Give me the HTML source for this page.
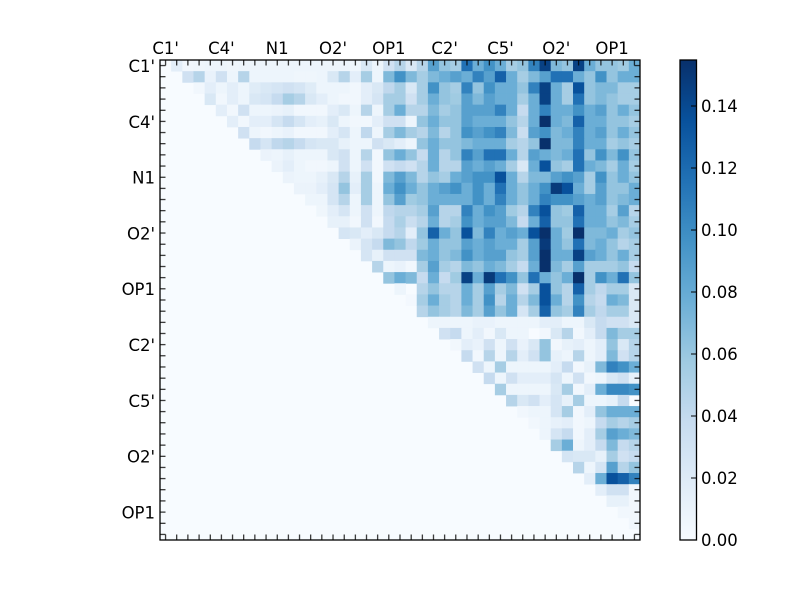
<!DOCTYPE html>
<html><head><meta charset="utf-8"><style>
html,body{margin:0;padding:0;background:#fff;}
svg{display:block;}
text{font-family:"DejaVu Sans","Liberation Sans",sans-serif;font-size:16.5px;fill:#000;}
</style></head><body>
<svg id="s" width="800" height="600" viewBox="0 0 800 600" xmlns="http://www.w3.org/2000/svg">
<defs>
<linearGradient id="cb" x1="0" y1="1" x2="0" y2="0">
<stop offset="0" stop-color="#f7fbff"/>
<stop offset="0.125" stop-color="#deebf7"/>
<stop offset="0.25" stop-color="#c6dbef"/>
<stop offset="0.375" stop-color="#9ecae1"/>
<stop offset="0.5" stop-color="#6baed6"/>
<stop offset="0.625" stop-color="#4292c6"/>
<stop offset="0.75" stop-color="#2171b5"/>
<stop offset="0.875" stop-color="#08519c"/>
<stop offset="1" stop-color="#08306b"/>
</linearGradient>
<pattern id="tx" patternUnits="userSpaceOnUse" x="160" y="0" width="11.16279" height="600">
<rect x="5.08" y="0" width="1" height="600" fill="#000"/>
</pattern>
<pattern id="ty" patternUnits="userSpaceOnUse" x="0" y="60" width="800" height="11.16279">
<rect x="0" y="5.08" width="800" height="1" fill="#000"/>
</pattern>
</defs>
<rect width="800" height="600" fill="#fff"/>
<rect x="160" y="60" width="480" height="480" fill="#f7fbff"/>
<g id="cells"></g>
<rect x="160" y="60" width="480" height="5.5" fill="url(#tx)"/>
<rect x="160" y="534.5" width="480" height="5.5" fill="url(#tx)"/>
<rect x="160" y="60" width="5.5" height="480" fill="url(#ty)"/>
<rect x="634.5" y="60" width="5.5" height="480" fill="url(#ty)"/>
<rect x="160" y="60" width="480" height="480" fill="none" stroke="#000" stroke-width="1.3"/>

<g text-anchor="middle">
<text x="165.6" y="54">C1'</text>
<text x="221.4" y="54">C4'</text>
<text x="277.2" y="54">N1</text>
<text x="333.0" y="54">O2'</text>
<text x="388.8" y="54">OP1</text>
<text x="444.7" y="54">C2'</text>
<text x="500.5" y="54">C5'</text>
<text x="556.3" y="54">O2'</text>
<text x="612.1" y="54">OP1</text>
</g>
<g text-anchor="end">
<text x="155" y="72">C1'</text>
<text x="155" y="127.8">C4'</text>
<text x="155" y="183.6">N1</text>
<text x="155" y="239.4">O2'</text>
<text x="155" y="295.2">OP1</text>
<text x="155" y="351.1">C2'</text>
<text x="155" y="406.9">C5'</text>
<text x="155" y="462.7">O2'</text>
<text x="155" y="518.5">OP1</text>
</g>

<rect x="680" y="60" width="16.5" height="480" fill="url(#cb)" stroke="#000" stroke-width="1.3"/>
<g stroke="#000" stroke-width="1">
<line x1="691" y1="478" x2="696.5" y2="478"/>
<line x1="691" y1="416" x2="696.5" y2="416"/>
<line x1="691" y1="354" x2="696.5" y2="354"/>
<line x1="691" y1="292" x2="696.5" y2="292"/>
<line x1="691" y1="230" x2="696.5" y2="230"/>
<line x1="691" y1="168" x2="696.5" y2="168"/>
<line x1="691" y1="106" x2="696.5" y2="106"/>
</g>
<g>
<text x="701" y="546">0.00</text>
<text x="701" y="484">0.02</text>
<text x="701" y="422">0.04</text>
<text x="701" y="360">0.06</text>
<text x="701" y="298">0.08</text>
<text x="701" y="236">0.10</text>
<text x="701" y="174">0.12</text>
<text x="701" y="112">0.14</text>
</g>
</svg>
<script>
var D=[
[1,0.3,0.4,0.5,0.5,0.4,0.5,0.5,0.5,0.5,0.5,0.5,0.5,0.5,0.5,0.5,0.4,1.5,0.5,2, 3,1.5,3,5.5,4,3.5,7,5,6,5,3.5,4,6.5,8.5,4.5,4,8.5,5,4,4,3.7,5],
[2,3,0.7,2,0.5,3,0.5,0.5,0.5,0.5,0.4,0.4,0.5,1.5,3,1,3.5,0.5,4.5, 6,4.5,3.5,4.5,5,5.5,5,6.5,5.5,7.5,5,3.5,4.5,5.5,7,7,5,4,6,4,5,5],
[0.3,1,0.5,1,0.5,1.2,1.5,1.7,2,1.7,1.2,0.5,0.5,0.5,0.3,1,1.5,2.7, 3.5,1.5,3.5,6,4,3.5,6.5,4,6,5,5,4,6.5,8.5,5,3.5,8,4,4.5,4.5,3.5,3.5],
[1.5,0.3,1,0.5,1.5,1.7,2.5,3.5,3,1.5,1,0.5,0.3,0.3,1,1.7,3.5, 3.5,2,3.5,5,4,3.7,5.5,4.5,5.5,5,5,3.5,5,8.5,5,3.5,7,4,4.5,4,3.5,3.5],
[1,0.3,2,0.5,0.5,0.6,0.8,0.3,0.3,0.3,1,1.5,0.5,3,0.5,3.5, 5,3,3,4.5,3.5,4,5.5,5.5,5.5,6.5,5,2.5,5,6.5,5,5,6,5,5.5,4,5,4],
[1,0.3,1,1,1.7,2.5,1.7,1,0.8,1.5,0.5,0.3,0.3,1,2, 2,0.5,4,5,4,4,5.5,5,5,5,4,3,5,9,5,4.5,7.5,5,5,4,4,3.5],
[2,0.5,0.3,0.5,0.7,0.3,0.3,0.3,1,1.7,0.5,2.7,0.5,3.5, 4.5,3.5,3,4.5,3,4,6,5.5,6,6.5,4.5,2.3,5.5,6,4.5,5,6.5,5,5.5,4,5,4],
[2.5,1.7,2.7,3,2.5,1.7,1.5,1.5,0.8,0.5,0.5,2,1.5, 1,0.5,4,5,4,4,4.5,5,5,5,3.5,3,4,9,4.5,4.5,6.5,5,5,3.5,4,3.5],
[0.6,0.5,0.8,0.5,0.5,0.5,1.5,2,0.5,3,0.3,4, 5,4,2.5,5,3,4,6.5,5.5,7,7,5,3,5.5,5,4.5,5,7,4,6,4.5,6,4],
[0.6,1,0.5,0.3,0.3,0.5,2,0.5,2,0.3,2, 2.5,2,3,5,3,3,5.5,5,5.5,5,3.5,1.5,5,8,4,3.5,7,5,4.5,3.5,5,3.5],
[0.6,0.5,0.5,0.8,1.5,3,0.8,3.5,0.3,4.5, 5.5,4.5,3,4,3.5,5,5.5,6,6,8,5,3,4.5,4.5,5.5,6,5.5,3.5,6,4,5,4],
[0.6,0.6,1,1.7,4,1,3.5,0.5,5, 6,5,4,5,5.5,6,5,6,5,7,5,4,5,6,8.7,8,5,3.5,5.5,4,4,5],
[0.5,0.5,1.7,3,0.5,3.5,0.5,4, 5.5,3.7,4,5,5,5,5,6,5,6.5,5,4,5,6.5,6,6,5.5,5,5.5,4,4.5,5],
[0.4,1,1.7,0.5,2,0.5,2.7, 3,3,3.5,5.5,3,3,6.5,5,6,5.5,3.7,3,6.5,8,4,3.7,7.5,5,5,3.5,5.5,3],
[0.8,0.8,0.3,2,0.3,2.5, 3.3,2.3,3,5,3,3.5,6,5,5.5,5.5,4.5,2.5,5,7.5,4,4,7,5,5,4,4.5,3.5],
[1.7,1.5,1,1.5,2.5, 3,1,4,7.5,5,4,8,4.5,6.5,5,5.5,5,8,9,5,3.7,9,4.5,4.5,5,3.5,4],
[0.6,1.7,2.5,4.5, 4,2.7,3.7,5,4,4,5.5,5,5.5,5,5,3.5,5.5,8.7,5,4,7,4.5,5,4,3,3.5],
[1.7,0.8,2, 2,2,4.5,5,4,4.5,6,5,5.5,5.5,4,3.5,5.5,9,5,5,8.5,5.5,5,4,5,3.5],
[3,0.5, 0.7,0.3,3.5,5.5,3.5,3,4.5,4,5,4.5,3.5,2.5,5,9,4.5,3.5,5.5,3.5,3.5,3.5,4,2.5],
[4, 5,4.5,2.5,5,2.5,3.7,8.5,5,8.7,7,6,4,7,5,4,5,9,3.5,6,5,7,4],
[0.5,0,3,4,3,3,5,3.5,5.5,3.5,4.5,2,3.5,8,4,3,7.5,3.5,2.7,3.5,3.5,1.5],
[0.2,3.5,5,3.5,3,5,3.5,6,3,5,3,4.5,8,5,3,6,3,2.5,5,4.5,1.5],
[3,4,3.5,3,4.5,3.5,5.5,4,5,1.7,3.5,7.5,4,3.5,6.5,3.5,2.7,3.5,3.5,1.5],
[0.5,0.5,0.5,0.5,0.7,0.7,0.5,0.5,0.5,0.5,1,1,0.5,0.5,1.5,2.5,2,2,1.5],
[2,2.5,0.5,1,0.3,1.5,0.5,0.5,0,0.3,1.5,3,0.3,1,2.5,4.5,3.5,3.5],
[0.3,1,0.7,2,0.5,2,0.7,1.5,4,0.3,0.8,1,0.5,1,4,1.5,3],
[2.5,0.3,3,0.5,3,1,2,4,0.8,0.5,3,0.5,1,4.5,2,3],
[2,0.5,3.5,0.5,0.5,0.5,0.5,1,2.5,0.3,0.8,4.5,6.5,6,5],
[2.5,0.5,2,1,1,1,1.7,0.5,2,0.3,0.5,1.5,2,0.8],
[3.5,0.5,0.5,0.5,0.5,1.5,3.5,0.3,1,5,6.3,6.3,6],
[3,1.5,2,1,1.7,0.8,3.5,0.5,0.5,0.8,2.5,0],
[0.3,0.5,0.5,1.7,3.5,0.3,1,4,5,5,5],
[0.3,0.5,0.8,1,0.3,0.5,2.5,3.5,3,3.5],
[0.5,1.7,2.5,0.3,1,3.5,5.5,5,4.5],
[3.5,5,0.5,1,2.5,4.5,2.5,3],
[1.7,1.5,1.5,0.8,3.5,2,2.5],
[3,0.5,1.7,5.5,3,4],
[1,5,8,7.5,6.5],
[1,2,2,0.3],
[0.8,0.8,0.3],
[0.3,0.3],
[0.3]
];
var S=[[0,[247,251,255]],[0.125,[222,235,247]],[0.25,[198,219,239]],[0.375,[158,202,225]],[0.5,[107,174,214]],[0.625,[66,146,198]],[0.75,[33,113,181]],[0.875,[8,81,156]],[1,[8,48,107]]];
function col(L){
  var f=L<=5?L/10:0.5+(L-5)/8; if(f>1)f=1; if(f<0)f=0;
  for(var k=0;k<8;k++){
    if(f<=S[k+1][0]){
      var a=S[k],b=S[k+1],t=(f-a[0])/(b[0]-a[0]);
      var r=[];
      for(var c=0;c<3;c++){r.push(Math.round(a[1][c]+t*(b[1][c]-a[1][c])));}
      return 'rgb('+r.join(',')+')';
    }
  }
  return 'rgb(8,48,107)';
}
var w=480/43,h='';
for(var i=0;i<D.length;i++){
  for(var m=0;m<D[i].length;m++){
    var j=i+1+m, L=D[i][m];
    if(L<=0||j>42)continue;
    h+='<rect x="'+(160+j*w).toFixed(2)+'" y="'+(60+i*w).toFixed(2)+'" width="'+(w+0.4).toFixed(2)+'" height="'+(w+0.4).toFixed(2)+'" fill="'+col(L)+'"/>';
  }
}
document.getElementById('cells').innerHTML=h;
</script>
</body></html>
